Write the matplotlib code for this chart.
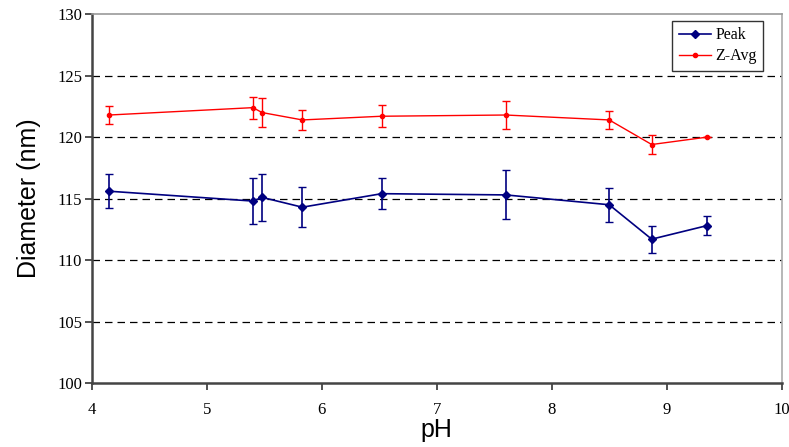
import matplotlib.pyplot as plt
from matplotlib.lines import Line2D

# ========== DATA ==========
ph = [4.15, 5.40, 5.48, 5.83, 6.52, 7.60, 8.50, 8.87, 9.35]

peak = [115.6, 114.8, 115.1, 114.3, 115.4, 115.3, 114.5, 111.7, 112.8]
peak_err = [1.4, 1.9, 1.9, 1.65, 1.25, 2.0, 1.4, 1.1, 0.8]

zavg = [121.8, 122.4, 122.0, 121.4, 121.7, 121.8, 121.4, 119.4, 120.0]
zavg_err = [0.7, 0.9, 1.2, 0.8, 0.9, 1.1, 0.7, 0.8, 0.0]

yticks = [100, 105, 110, 115, 120, 125, 130]
xticks = [4, 5, 6, 7, 8, 9, 10]
# ==========================

serif = 'Liberation Serif'
sans = 'Liberation Sans'
peak_col = '#000080'
zavg_col = '#ff0000'

fig = plt.figure(figsize=(7.89, 4.47), dpi=100)
ax = fig.add_axes([0.1166, 0.1432, 0.874, 0.825])

# dashed horizontal grid
for yv in yticks[1:-1]:
    ax.axhline(yv, color='black', lw=0.9, ls=(0, (6, 4)), zorder=0)

ax.errorbar(ph, peak, yerr=peak_err, color=peak_col, marker='D', ms=4.5,
            lw=1.2, capsize=3, elinewidth=1.2)
ax.errorbar(ph, zavg, yerr=zavg_err, color=zavg_col, marker='o', ms=3,
            lw=1.0, capsize=3, elinewidth=1.0)

ax.set_xlim(4, 10)
ax.set_ylim(100, 130)
ax.set_xticks(xticks)
ax.set_yticks(yticks)

for lab in ax.get_xticklabels() + ax.get_yticklabels():
    lab.set_fontfamily(serif)
    lab.set_fontsize(12)

ax.tick_params(axis='both', direction='out', length=5, width=1.2, color='#333333')
ax.tick_params(axis='y', pad=2)
ax.tick_params(axis='x', pad=9)

ax.spines['left'].set_color('#444444')
ax.spines['left'].set_linewidth(1.8)
ax.spines['bottom'].set_color('#444444')
ax.spines['bottom'].set_linewidth(1.8)
ax.spines['top'].set_color('#999999')
ax.spines['top'].set_linewidth(1.2)
ax.spines['right'].set_color('#aaaaaa')
ax.spines['right'].set_linewidth(1.2)

ax.set_xlabel('pH', fontfamily=sans, fontsize=18, labelpad=0)
ax.set_ylabel('Diameter (nm)', fontfamily=sans, fontsize=18, labelpad=12)

handles = [
    Line2D([], [], color=peak_col, marker='D', ms=4.5, lw=1.2, label='Peak'),
    Line2D([], [], color=zavg_col, marker='o', ms=3, lw=1.0, label='Z-Avg'),
]
leg = ax.legend(handles=handles, loc='upper right', bbox_to_anchor=(0.985, 1.003),
                prop={'family': serif, 'size': 11.5}, frameon=True,
                fancybox=False, edgecolor='black', handlelength=2.0,
                borderpad=0.4, labelspacing=0.3, handletextpad=0.3)
leg.get_frame().set_linewidth(1.0)

fig.savefig('out.png', dpi=100)
